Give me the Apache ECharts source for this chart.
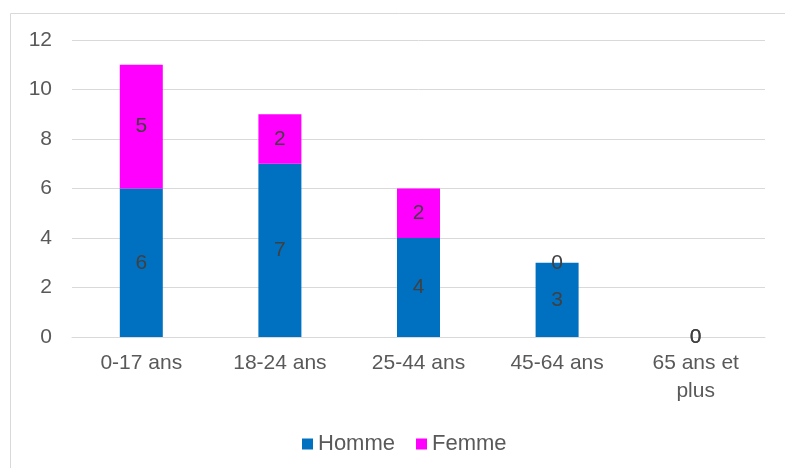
<!DOCTYPE html>
<html><head><meta charset="utf-8">
<script src="https://cdn.jsdelivr.net/npm/echarts@6/dist/echarts.min.js"></script>
<style>html,body{margin:0;padding:0;background:#fff}#c{width:785px;height:468px}</style>
</head><body><div id="c"></div>
<script>
const categories = ["0-17 ans", "18-24 ans", "25-44 ans", "45-64 ans", "65 ans et\nplus"];
const homme = [6, 7, 4, 3, 0];
const femme = [5, 2, 2, 0, 0];
const yTicks = [0, 2, 4, 6, 8, 10, 12];

const FONT = 'Liberation Sans, Arial, sans-serif';
const chart = echarts.init(document.getElementById('c'));
const lbl = {show: true, position: 'inside', color: '#404040', fontSize: 21, fontFamily: FONT};
chart.setOption({
  animation: false,
  textStyle: {fontFamily: FONT},
  graphic: [{type: 'rect', shape: {x: 10.5, y: 13.5, width: 800, height: 470}, style: {fill: 'none', stroke: '#d9d9d9', lineWidth: 1}, z: -1}],
  grid: {left: 72, right: 20, top: 40, bottom: 131, containLabel: false},
  legend: {
    top: 428, left: 297, itemWidth: 11, itemHeight: 11, itemGap: 21, icon: 'rect',
    textStyle: {color: '#595959', fontSize: 22, padding: [0, 0, 0, 0]},
    data: ['Homme', 'Femme']
  },
  xAxis: {
    type: 'category', data: categories,
    axisLine: {lineStyle: {color: '#d9d9d9'}}, axisTick: {show: false},
    axisLabel: {color: '#595959', fontSize: 21, margin: 12, lineHeight: 28}
  },
  yAxis: {
    type: 'value', min: 0, max: 12, interval: 2,
    axisLine: {show: false}, axisTick: {show: false},
    axisLabel: {color: '#595959', fontSize: 21, margin: 20, formatter: v => yTicks.includes(v) ? String(v) : ''},
    splitLine: {lineStyle: {color: '#d9d9d9', width: 1}}
  },
  series: [
    {name: 'Homme', type: 'bar', stack: 's', data: homme, barWidth: 43, itemStyle: {color: '#0070c0'}, label: lbl},
    {name: 'Femme', type: 'bar', stack: 's', data: femme, barWidth: 43, itemStyle: {color: '#ff00ff'}, label: lbl}
  ]
});
</script></body></html>
